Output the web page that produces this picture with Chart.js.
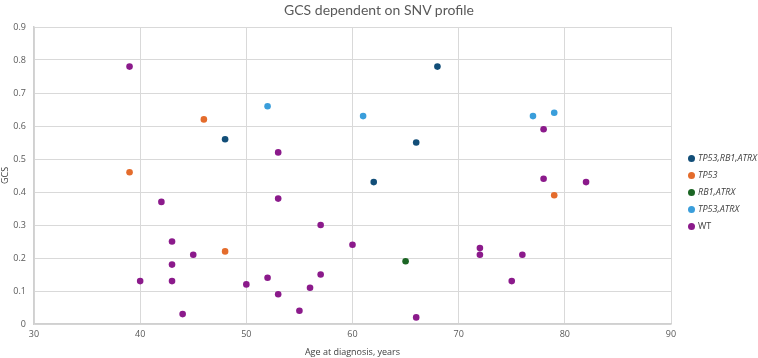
<!DOCTYPE html>
<html>
<head>
<meta charset="utf-8">
<script src="https://cdn.jsdelivr.net/npm/chart.js@4.4.0/dist/chart.umd.min.js"></script>
<style>
  html, body { margin: 0; padding: 0; background: #fff; }
  #wrap { position: relative; width: 758px; height: 358px; }
  #title { position: absolute; left: 0; width: 758px; top: 1px; text-align: center; font-family: Lato, sans-serif; font-size: 14px; color: #595959; }
  #legend { position: absolute; left: 688px; top: 150px; font-family: "Open Sans", sans-serif; font-size: 9px; color: #404040; }
  #legend div { height: 17px; line-height: 16px; white-space: nowrap; }
  #legend span.dot { display: inline-block; width: 7px; height: 7px; border-radius: 50%; margin-right: 3px; vertical-align: -0.5px; }
</style>
</head>
<body>
<div id="wrap">
  <canvas id="gcsChart" width="758" height="358"></canvas>
  <div id="title">GCS dependent on SNV profile</div>
  <div id="legend"></div>
</div>
<script>
// series: [age, GCS]
const tp53Rb1Atrx = [[48, 0.56], [68, 0.78], [66, 0.55], [62, 0.43]];
const tp53 = [[39, 0.46], [46, 0.62], [48, 0.22], [79, 0.39]];
const rb1Atrx = [[65, 0.19]];
const tp53Atrx = [[52, 0.66], [61, 0.63], [77, 0.63], [79, 0.64]];
const wt = [
  [39, 0.78], [53, 0.52], [53, 0.38], [42, 0.37], [57, 0.30], [43, 0.25],
  [60, 0.24], [45, 0.21], [43, 0.18], [57, 0.15], [52, 0.14], [40, 0.13],
  [43, 0.13], [50, 0.12], [56, 0.11], [53, 0.09], [55, 0.04], [44, 0.03],
  [66, 0.02], [72, 0.23], [72, 0.21], [76, 0.21], [75, 0.13], [78, 0.59],
  [78, 0.44], [82, 0.43]
];

const seriesNames = ['TP53,RB1,ATRX', 'TP53', 'RB1,ATRX', 'TP53,ATRX', 'WT'];
const seriesData = [tp53Rb1Atrx, tp53, rb1Atrx, tp53Atrx, wt];
const seriesColors = ['#124e78', '#e46c2c', '#1b6524', '#3a9edb', '#8b1a8b'];
const italicName = [true, true, true, true, false];

const xTicks = [30, 40, 50, 60, 70, 80, 90];

const font = "'Open Sans', sans-serif";
const textCol = '#595959';

const datasets = seriesNames.map((name, i) => ({
  label: name,
  data: seriesData[i].map(p => ({ x: p[0], y: p[1] })),
  backgroundColor: seriesColors[i],
  borderColor: seriesColors[i],
  pointRadius: 3.3,
  pointHoverRadius: 3.3,
  borderWidth: 0
}));

new Chart(document.getElementById('gcsChart'), {
  type: 'scatter',
  data: { datasets },
  options: {
    responsive: false,
    animation: false,
    layout: { padding: { left: 0, right: 87, top: 27, bottom: 0 } },
    plugins: {
      legend: { display: false },
      tooltip: { enabled: false }
    },
    scales: {
      x: {
        type: 'linear',
        min: 30, max: 90,
        afterBuildTicks: s => { s.ticks = xTicks.map(v => ({ value: v })); },
        afterFit: s => { s.height = 34; },
        grid: { color: '#d9d9d9', lineWidth: 1, drawTicks: false },
        border: { color: '#d0d0d0', width: 1.5 },
        ticks: { color: textCol, font: { family: font, size: 9 }, padding: 5 },
        title: { display: true, text: 'Age at diagnosis, years', color: '#404040', font: { family: font, size: 9 }, padding: { top: 3, bottom: 0 } }
      },
      y: {
        min: 0, max: 0.9,
        ticks: { stepSize: 0.1, color: textCol, font: { family: font, size: 9 }, padding: 8 },
        afterFit: s => { s.width = 34; },
        grid: { color: '#d9d9d9', lineWidth: 1, drawTicks: false },
        border: { color: '#d0d0d0', width: 1.5 },
        title: { display: true, text: 'GCS', color: '#404040', font: { family: font, size: 9 }, padding: { top: 0, bottom: 0 } }
      }
    }
  }
});

// legend as html, gene names in italics like the original
const legendEl = document.getElementById('legend');
seriesNames.forEach((name, i) => {
  const row = document.createElement('div');
  row.innerHTML = `<span class="dot" style="background:${seriesColors[i]}"></span><span style="font-style:${italicName[i] ? 'italic' : 'normal'}">${name}</span>`;
  legendEl.appendChild(row);
});
</script>
</body>
</html>
